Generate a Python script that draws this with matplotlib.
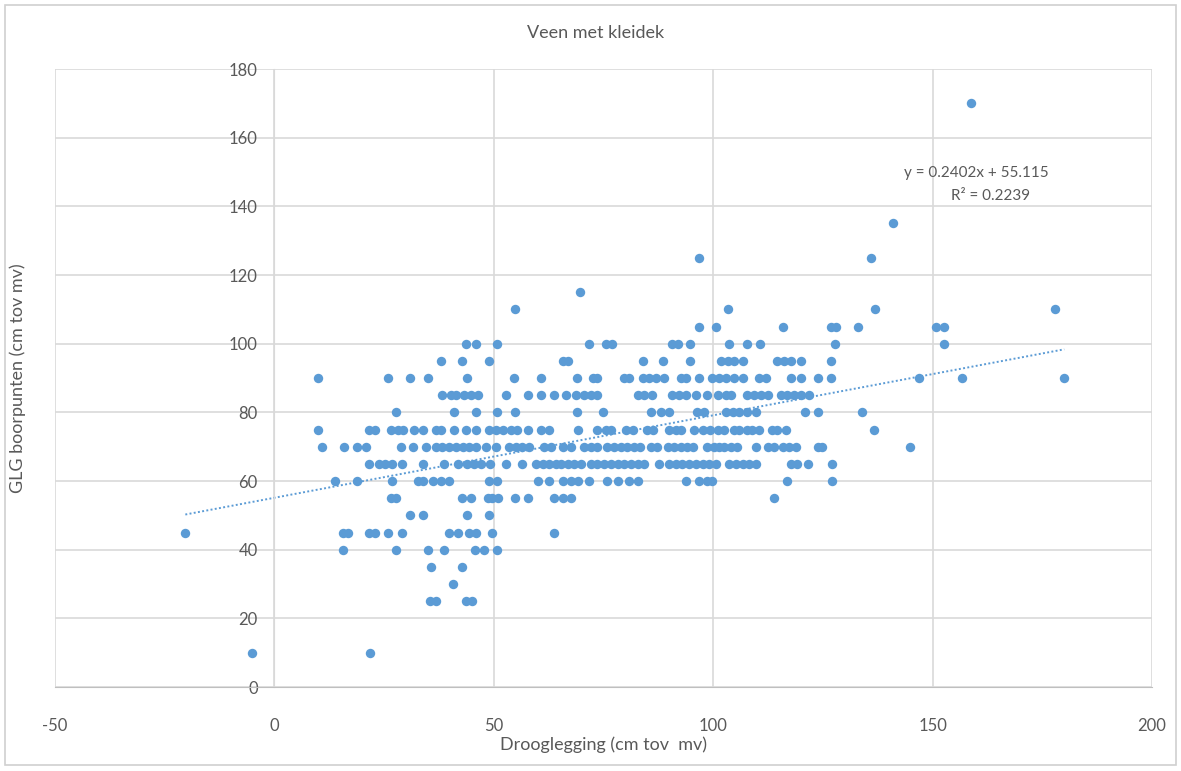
import numpy as np
import matplotlib
matplotlib.use('Agg')
import matplotlib.pyplot as plt
from matplotlib.patches import Rectangle

droog_170 = [158.7]
droog_135 = [140.9]
droog_125 = [96.7, 135.9]
droog_115 = [69.7]
droog_110 = [54.8, 103.3, 136.8, 177.9]
droog_105 = [96.7, 100.6, 115.8, 126.8, 127.9, 132.9, 150.7, 152.6]
droog_100 = [43.7, 46.0, 50.7, 71.8, 75.6, 76.9, 90.6, 91.9, 94.8, 103.6, 107.8,
             110.7, 127.8, 152.6]
droog_95 = [38.0, 42.7, 48.8, 65.8, 66.8, 83.9, 88.6, 94.8, 101.7, 103.3, 104.8,
            106.7, 114.6, 116.2, 117.7, 120.0, 126.8]
droog_90 = [9.9, 25.8, 30.9, 34.9, 43.9, 54.7, 60.7, 68.9, 72.5, 73.6, 79.7, 80.9,
            83.9, 85.4, 86.9, 88.8, 92.6, 93.8, 96.7, 99.7, 101.4, 102.9, 104.8,
            106.7, 110.5, 112.0, 117.7, 120.0, 123.8, 126.8, 146.8, 156.8, 180.0]
droog_85 = [38.3, 40.2, 41.4, 43.3, 44.8, 46.3, 52.8, 57.7, 60.7, 63.8, 66.4, 68.7,
            70.6, 72.1, 73.6, 82.8, 84.3, 86.0, 90.6, 92.3, 93.8, 96.0, 98.7, 101.0,
            102.9, 104.0, 107.8, 109.3, 110.9, 112.4, 115.4, 116.9, 118.5, 120.0, 121.9]
droog_80 = [27.7, 41.0, 46.0, 50.7, 54.9, 68.9, 74.9, 85.8, 88.1, 90.0, 96.4, 97.9,
            102.9, 104.4, 105.9, 107.8, 109.7, 121.0, 123.8, 133.8]
droog_75 = [9.9, 21.6, 23.0, 26.6, 28.1, 29.2, 31.9, 33.8, 36.8, 38.0, 41.0, 43.7,
            46.0, 49.0, 50.5, 52.0, 53.9, 55.4, 57.7, 60.7, 62.6, 69.1, 73.6, 75.6,
            76.7, 80.1, 81.8, 85.0, 86.2, 90.0, 91.5, 92.6, 95.7, 97.6, 99.3, 101.0,
            102.5, 104.8, 105.9, 107.8, 108.9, 110.5, 113.5, 114.6, 116.7, 136.7]
droog_70 = [10.8, 15.9, 18.8, 20.9, 28.9, 31.5, 34.6, 36.8, 38.3, 39.9, 41.4, 42.9,
            44.4, 45.9, 48.2, 50.5, 53.5, 55.0, 56.5, 58.0, 61.5, 63.0, 65.7, 67.5,
            70.6, 72.1, 73.6, 75.9, 77.4, 78.9, 80.4, 81.9, 83.4, 85.8, 87.3, 89.6,
            91.1, 92.6, 94.1, 95.3, 98.7, 100.2, 101.4, 102.5, 104.0, 105.5, 109.7,
            112.4, 113.9, 115.8, 117.3, 118.8, 123.8, 124.9, 144.9]
droog_65 = [21.6, 23.9, 25.1, 26.9, 29.1, 33.9, 38.7, 41.8, 44.0, 45.6, 47.1, 49.2,
            52.8, 56.5, 59.6, 61.1, 62.6, 64.2, 65.3, 66.8, 68.3, 69.9, 72.1, 73.6,
            75.2, 76.7, 78.2, 79.7, 81.2, 82.8, 84.3, 87.7, 90.0, 91.5, 93.0, 94.5,
            96.0, 97.6, 99.1, 100.6, 103.6, 105.2, 106.7, 108.2, 109.7, 117.7, 119.0,
            121.7, 127.0]
droog_60 = [13.8, 18.8, 26.8, 32.7, 33.8, 36.1, 38.0, 39.9, 49.0, 50.7, 60.0, 62.6,
            65.7, 67.6, 69.1, 71.8, 75.9, 78.2, 80.9, 82.8, 93.8, 96.8, 98.7, 99.8,
            116.8, 127.0]
droog_55 = [26.6, 27.7, 42.7, 44.8, 48.6, 49.7, 50.9, 54.8, 57.7, 63.8, 65.7, 67.7, 113.9]
droog_50 = [30.9, 33.8, 44.0, 48.8]
droog_45 = [-20.3, 15.7, 16.7, 21.6, 23.0, 25.8, 29.0, 39.9, 41.8, 44.4, 45.9, 49.7, 63.8]
droog_40 = [15.7, 27.7, 34.9, 38.7, 45.8, 47.8, 50.7]
droog_35 = [35.8, 42.7]
droog_30 = [40.8]
droog_25 = [35.5, 36.8, 43.7, 45.0]
droog_10 = [-5.1, 21.8]

glg_niveaus = [170, 135, 125, 115, 110, 105, 100, 95, 90, 85, 80, 75, 70, 65, 60,
               55, 50, 45, 40, 35, 30, 25, 10]
droog_rijen = [droog_170, droog_135, droog_125, droog_115, droog_110, droog_105,
               droog_100, droog_95, droog_90, droog_85, droog_80, droog_75, droog_70,
               droog_65, droog_60, droog_55, droog_50, droog_45, droog_40, droog_35,
               droog_30, droog_25, droog_10]

x = np.concatenate([np.array(r, dtype=float) for r in droog_rijen])
y = np.concatenate([np.full(len(r), g, dtype=float) for r, g in zip(droog_rijen, glg_niveaus)])

# trendlijn zoals in de grafiek vermeld
helling = 0.2402
snijpunt = 55.115
vergelijking = 'y = 0.2402x + 55.115'
r_kwadraat = 'R² = 0.2239'

blauw = '#5B9BD5'
grijs = '#595959'
rasterkleur = '#d9d9d9'
plt.rcParams['font.family'] = ['Lato', 'DejaVu Sans']
plt.rcParams['axes.unicode_minus'] = False

fig = plt.figure(figsize=(11.81, 7.71), dpi=100)
fig.patches.append(Rectangle((0.004, 0.008), 0.992, 0.985, transform=fig.transFigure,
                             fill=False, edgecolor='#d0d0d0', linewidth=1.2))
ax = fig.add_axes([55 / 1181, 1 - 687 / 771, (1152 - 55) / 1181, (687 - 69) / 771])

ax.scatter(x, y, s=46, color=blauw, zorder=3, linewidths=0)

xs = np.array([x.min(), x.max()])
ax.plot(xs, helling * xs + snijpunt, linestyle=(0, (1, 1.2)), color=blauw,
        linewidth=1.4, zorder=2)

ax.set_xlim(-50, 200)
ax.set_ylim(0, 180)
ax.set_xticks(np.arange(-50, 201, 50))
ax.set_yticks(np.arange(0, 181, 20))
ax.grid(True, color=rasterkleur, linewidth=1.2)
ax.set_axisbelow(True)

for s in ['top', 'right']:
    ax.spines[s].set_visible(False)
ax.spines['left'].set_position(('data', 0))
ax.spines['left'].set_color(rasterkleur)
ax.spines['bottom'].set_color('#bfbfbf')
ax.tick_params(axis='both', length=0, colors=grijs, labelsize=12)
ax.tick_params(axis='x', pad=22)
ax.tick_params(axis='y', pad=12)

ax.text(160.0, 149.7, vergelijking, ha='center', va='center', fontsize=11, color=grijs)
ax.text(163.3, 143.0, r_kwadraat, ha='center', va='center', fontsize=11, color=grijs)

fig.text(596 / 1181, 1 - 33 / 771, 'Veen met kleidek', ha='center', va='center',
         fontsize=13, color=grijs)
fig.text(603 / 1181, 1 - 745 / 771, 'Drooglegging (cm tov  mv)', ha='center', va='center',
         fontsize=13, color=grijs)
fig.text(18 / 1181, 1 - 378 / 771, 'GLG boorpunten (cm tov mv)', ha='center', va='center',
         rotation=90, fontsize=13, color=grijs)

fig.savefig('out.png', dpi=100)
